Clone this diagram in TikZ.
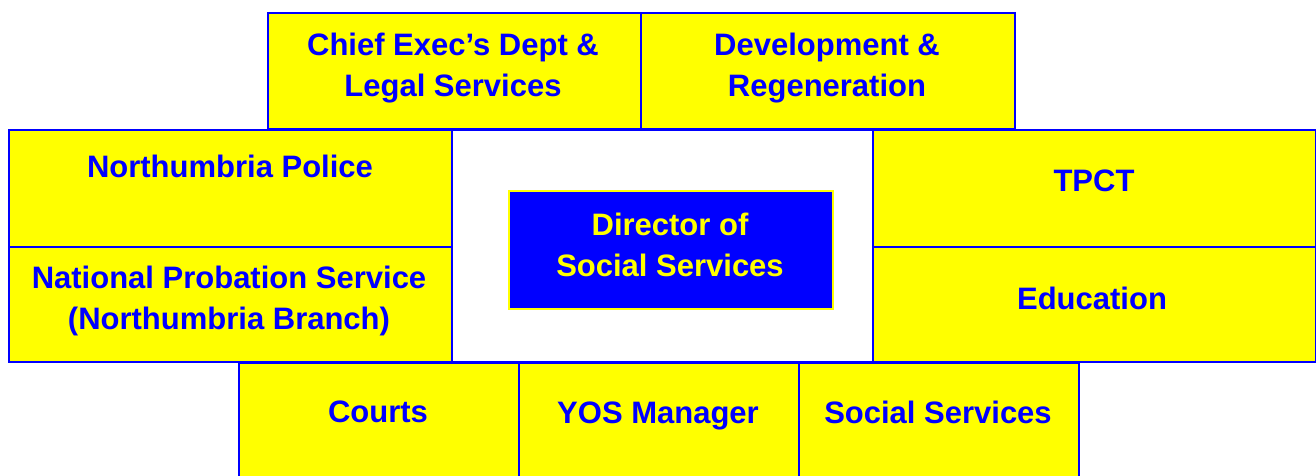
\documentclass[tikz,border=0pt]{standalone}
\usepackage{fontspec}
\setmainfont{Liberation Sans}
\usepackage{tikz}
\usetikzlibrary{shapes,arrows,positioning}
\definecolor{boxyellow}{RGB}{255,255,0}
\definecolor{boxblue}{RGB}{0,0,255}

\begin{document}
\begin{tikzpicture}[x=0.5pt,y=-0.5pt,
  unit/.style={draw=boxblue,fill=boxyellow,line width=1pt,inner sep=0pt,anchor=north west},
  caption/.style={text=boxblue,font=\fontsize{15.5}{20.5}\selectfont\bfseries,align=center}]
\useasboundingbox (0,0) rectangle (1316,476);

% middle frame round the director
\node[unit,fill=white,minimum width=210.5pt,minimum height=116pt] (frame) at (451,129) {};
\node[draw=boxyellow,fill=boxblue,line width=0.8pt,anchor=north west,
  minimum width=162pt,minimum height=59pt] (director) at (508,190) {};

% top row
\node[unit,minimum width=186.5pt,minimum height=58pt] (chief) at (267,12) {};
\node[unit,minimum width=187pt,minimum height=58pt] (devel) at (640,12) {};

% left and right columns
\node[unit,minimum width=221.5pt,minimum height=58.5pt] (police) at (8,129) {};
\node[unit,minimum width=221.5pt,minimum height=57.5pt] (probation) at (8,246) {};
\node[unit,minimum width=221.5pt,minimum height=58.5pt] (tpct) at (872,129) {};
\node[unit,minimum width=221.5pt,minimum height=57.5pt] (education) at (872,246) {};

% bottom row
\node[unit,minimum width=140pt,minimum height=62pt] (courts) at (238,362) {};
\node[unit,minimum width=140pt,minimum height=62pt] (yos) at (518,362) {};
\node[unit,minimum width=140pt,minimum height=62pt] (social) at (798,362) {};

% texts
\node[caption] (chief-txt) at (453,68) {Chief Exec's Dept \&\\Legal Services};
\node[caption] (devel-txt) at (827,68) {Development \&\\Regeneration};
\node[caption] (police-txt) at (230,166) {Northumbria Police};
\node[caption] (probation-txt) at (229,301) {National Probation Service\\(Northumbria Branch)};
\node[caption] (tpct-txt) at (1094,181) {TPCT};
\node[caption] (education-txt) at (1092,298) {Education};
\node[caption,text=boxyellow] (director-txt) at (670,245) {Director of\\Social Services};
\node[caption] (courts-txt) at (378,412) {Courts};
\node[caption] (yos-txt) at (658,416) {YOS Manager};
\node[caption] (social-txt) at (938,412) {Social Services};

\end{tikzpicture}
\end{document}
